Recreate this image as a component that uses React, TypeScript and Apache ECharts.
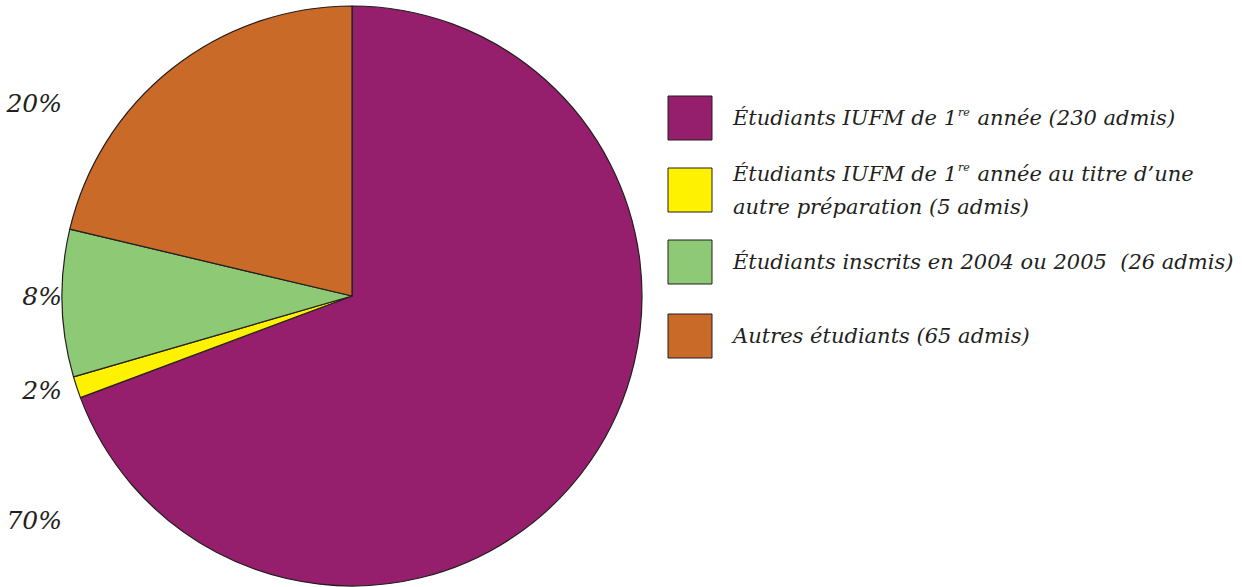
import React, { useEffect, useRef } from "react";
import * as echarts from "echarts";

const categories = [
  "Étudiants IUFM de 1re année (230 admis)",
  "Étudiants IUFM de 1re année au titre d’une autre préparation (5 admis)",
  "Étudiants inscrits en 2004 ou 2005 (26 admis)",
  "Autres étudiants (65 admis)",
];
// slice shares (%) as drawn in the picture
const shares = [69.3, 1.2, 8.2, 21.3];
const colors = ["#961F6D", "#FFF200", "#8EC975", "#C96A28"];
const percentLabels = ["70%", "2%", "8%", "20%"];
const legendRich = [
  "{a|Étudiants IUFM de 1}{s|re}{a| année (230 admis)}",
  "{a|Étudiants IUFM de 1}{s|re}{a| année au titre d’une}\n{a|autre préparation (5 admis)}",
  "{a|Étudiants inscrits en 2004 ou 2005  (26 admis)}",
  "{a|Autres étudiants (65 admis)}",
];

const FONT = "DejaVu Serif";

export default function App() {
  const ref = useRef<HTMLDivElement>(null);
  useEffect(() => {
    if (!ref.current) return;
    const chart = echarts.init(ref.current, undefined, { renderer: "svg" });
    const labelPos = [
      { x: 62, y: 520 },
      { x: 62, y: 390 },
      { x: 62, y: 296 },
      { x: 62, y: 103 },
    ];
    const legendTop = [96, 168, 240, 314];
    const graphic: any[] = [];
    percentLabels.forEach((t, i) => {
      graphic.push({
        type: "text",
        x: labelPos[i].x,
        y: labelPos[i].y,
        style: {
          text: t,
          align: "right",
          verticalAlign: "middle",
          fontFamily: FONT,
          fontStyle: "italic",
          fontSize: 25,
          fill: "#231F20",
        },
      });
    });
    categories.forEach((c, i) => {
      graphic.push({
        type: "rect",
        shape: { x: 668, y: legendTop[i], width: 44, height: 44 },
        style: { fill: colors[i], stroke: "#231F20", lineWidth: 1 },
      });
      graphic.push({
        type: "text",
        x: 733,
        y: legendTop[i] + 22,
        style: {
          text: legendRich[i],
          verticalAlign: "middle",
          fill: "#231F20",
          rich: {
            a: { fontFamily: FONT, fontStyle: "italic", fontSize: 21, lineHeight: 33, fill: "#231F20" },
            s: { fontFamily: FONT, fontStyle: "italic", fontSize: 11, lineHeight: 33, verticalAlign: "top", padding: [5, 1, 0, 1], fill: "#231F20" },
          },
        },
      });
    });
    chart.setOption({
      animation: false,
      backgroundColor: "#ffffff",
      series: [
        {
          type: "pie",
          center: [352, 296],
          radius: 290,
          startAngle: 90,
          clockwise: true,
          label: { show: false },
          labelLine: { show: false },
          emphasis: { disabled: true },
          itemStyle: { borderColor: "#231F20", borderWidth: 1.2 },
          data: categories.map((name, i) => ({
            name,
            value: shares[i],
            itemStyle: { color: colors[i] },
          })),
        },
      ],
      graphic,
    });
    return () => chart.dispose();
  }, []);
  return <div ref={ref} style={{ width: 1242, height: 587, position: "absolute", left: 0, top: 0 }} />;
}
